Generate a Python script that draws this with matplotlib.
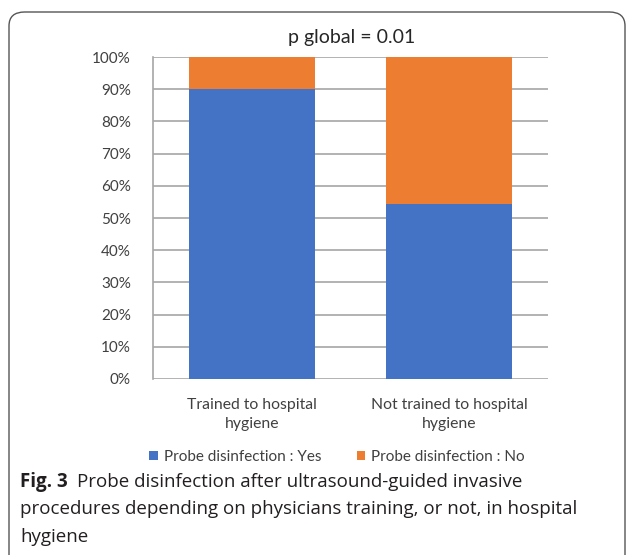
import matplotlib
matplotlib.use('Agg')
import matplotlib.pyplot as plt
from matplotlib.patches import FancyBboxPatch
from matplotlib.ticker import PercentFormatter

plt.rcParams['font.family'] = ['Lato', 'DejaVu Sans']

categories = ['Trained to hospital\nhygiene', 'Not trained to hospital\nhygiene']
yes_pct = [90.0, 54.5]
no_pct = [10.0, 45.5]
series_names = ['Probe disinfection : Yes', 'Probe disinfection : No']
title = 'p global = 0.01'
caption_bold = 'Fig. 3'
caption_lines = ['Probe disinfection after ultrasound-guided invasive',
                 'procedures depending on physicians training, or not, in hospital',
                 'hygiene']

W, H = 629, 555
fig = plt.figure(figsize=(W / 100, H / 100), dpi=100)

# rounded frame around chart + caption
frame = FancyBboxPatch((9 / W, -0.05), 616 / W, (H - 12) / H + 0.05,
                       boxstyle='round,pad=0,rounding_size=0.025',
                       transform=fig.transFigure, fill=False,
                       edgecolor='#555555', linewidth=1.0)
fig.patches.append(frame)

ax = fig.add_axes([153 / W, (H - 379) / H, 395 / W, 322 / H])
x = range(len(categories))
b1 = ax.bar(x, yes_pct, width=0.64, color='#4472C4', label=series_names[0], zorder=3)
b2 = ax.bar(x, no_pct, width=0.64, bottom=yes_pct, color='#ED7D31', label=series_names[1], zorder=3)

ax.set_xlim(-0.5, 1.5)
ax.set_ylim(0, 100)
ax.set_yticks(range(0, 101, 10))
ax.yaxis.set_major_formatter(PercentFormatter(decimals=0))
ax.set_xticks(list(x))
ax.set_xticklabels(categories, fontsize=11.3, color='#404040', linespacing=1.4)
ax.tick_params(axis='y', labelsize=11, labelcolor='#404040', length=0, pad=16)
ax.tick_params(axis='x', length=0, pad=14)
ax.grid(axis='y', color='#a6a6a6', linewidth=1.2, zorder=0)
for s in ['top', 'right', 'bottom']:
    ax.spines[s].set_visible(False)
ax.spines['left'].set_color('#a6a6a6')
ax.spines['left'].set_linewidth(1.2)

fig.text(352 / W, 1 - 38 / H, title, ha='center', va='center', fontsize=14, color='#262626')

fig.legend(handles=[b1, b2], loc='center', bbox_to_anchor=(337 / W, 1 - 457 / H),
           ncol=2, frameon=False, fontsize=11, handlelength=0.55, handleheight=0.55,
           handletextpad=0.4, columnspacing=2.3, labelcolor='#404040')

cap_font = ['Open Sans', 'DejaVu Sans']
cap_size = 13.5
fig.text(20 / W, 1 - 482 / H, caption_bold, ha='left', va='center', fontsize=cap_size,
         fontweight='bold', family=cap_font, color='#231f20')
fig.text(77 / W, 1 - 482 / H, caption_lines[0], ha='left', va='center', fontsize=cap_size,
         family=cap_font, color='#231f20')
fig.text(20 / W, 1 - 509 / H, caption_lines[1], ha='left', va='center', fontsize=cap_size,
         family=cap_font, color='#231f20')
fig.text(20 / W, 1 - 537 / H, caption_lines[2], ha='left', va='center', fontsize=cap_size,
         family=cap_font, color='#231f20')

fig.savefig('out.png', dpi=100)
